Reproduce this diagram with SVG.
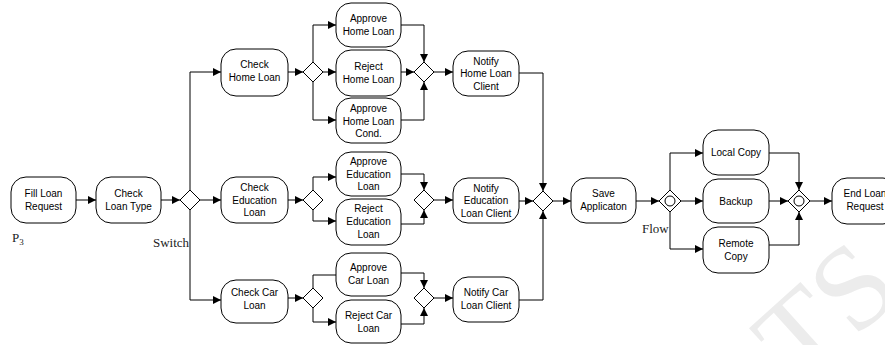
<svg xmlns="http://www.w3.org/2000/svg" width="885" height="345" viewBox="0 0 885 345">
<defs>
<marker id="ah" viewBox="0 0 10 10" refX="10" refY="5" markerWidth="8" markerHeight="8" markerUnits="userSpaceOnUse" orient="auto">
<path d="M0,0 L10,5 L0,10 z" fill="#000"/>
</marker>
</defs>
<style>
.n rect{fill:#fff;stroke:#000;stroke-width:1}
.n text,.t{font-family:"Liberation Sans",Arial,sans-serif;font-size:10px;fill:#000;text-anchor:middle}
.d{fill:#fff;stroke:#000;stroke-width:1}
.c{fill:none;stroke:#000;stroke-width:1}
.c path.a{marker-end:url(#ah)}
.s{font-family:"Liberation Serif","Times New Roman",serif;font-size:13px;fill:#222}
</style>
<rect width="885" height="345" fill="#fff"/>
<text x="800" y="388" transform="rotate(-42 800 388)" style="font-family:'Liberation Serif',serif;font-size:120px;fill:#ececec">TS</text>

<g class="c">
<path class="a" d="M76,200 H96"/>
<path class="a" d="M161,200 H180"/>
<path class="a" d="M200,200 H221"/>
<path class="a" d="M190,190 V72 H221"/>
<path class="a" d="M190,210 V300 H221"/>
<path class="a" d="M288,72 H303"/>
<path class="a" d="M313,62 V25 H336"/>
<path class="a" d="M323,72 H336"/>
<path class="a" d="M313,82 V120 H336"/>
<path class="a" d="M401,25 H424 V62"/>
<path class="a" d="M401,72 H414"/>
<path class="a" d="M401,120 H424 V82"/>
<path class="a" d="M434,72 H453"/>
<path class="a" d="M519,73 H543 V191"/>
<path class="a" d="M288,200 H303"/>
<path class="a" d="M313,190 V177 H336"/>
<path class="a" d="M313,210 V221 H336"/>
<path class="a" d="M401,174 H424 V190"/>
<path class="a" d="M401,224 H424 V210"/>
<path class="a" d="M434,200 H453"/>
<path class="a" d="M519,201 H533"/>
<path class="a" d="M288,298 H303"/>
<path d="M313,288 V275 H336"/>
<path class="a" d="M313,308 V322 H336"/>
<path class="a" d="M401,273 H424 V288"/>
<path class="a" d="M401,324 H424 V308"/>
<path class="a" d="M434,298 H453"/>
<path class="a" d="M519,300 H543 V211"/>
<path class="a" d="M553,201 H571"/>
<path class="a" d="M636,201 H659"/>
<path class="a" d="M670,190 V153 H703"/>
<path class="a" d="M681,201 H703"/>
<path class="a" d="M670,212 V249 H703"/>
<path class="a" d="M769,153 H799 V190"/>
<path class="a" d="M769,201 H788"/>
<path class="a" d="M769,245 H799 V212"/>
<path class="a" d="M810,201 H832"/>
</g>

<g id="fill" class="n"><rect x="11" y="177" width="65" height="46" rx="15"/><text x="43.5" y="197">Fill Loan</text><text x="43.5" y="210">Request</text></g>
<g id="checkType" class="n"><rect x="96" y="177" width="65" height="46" rx="15"/><text x="128.5" y="197">Check</text><text x="128.5" y="210">Loan Type</text></g>
<g id="switch"><path class="d" d="M190,190 L200,200 L190,210 L180,200 z"/></g>

<g id="checkHome" class="n"><rect x="221" y="49" width="67" height="47" rx="15"/><text x="254.5" y="68">Check</text><text x="254.5" y="81">Home Loan</text></g>
<g id="dHome"><path class="d" d="M313,62 L323,72 L313,82 L303,72 z"/></g>
<g id="approveHome" class="n"><rect x="336" y="3" width="65" height="44" rx="15"/><text x="368.5" y="22">Approve</text><text x="368.5" y="35">Home Loan</text></g>
<g id="rejectHome" class="n"><rect x="336" y="50" width="65" height="46" rx="15"/><text x="368.5" y="70">Reject</text><text x="368.5" y="83">Home Loan</text></g>
<g id="condHome" class="n"><rect x="336" y="98" width="65" height="45" rx="15"/><text x="368.5" y="112">Approve</text><text x="368.5" y="124.5">Home Loan</text><text x="368.5" y="137">Cond.</text></g>
<g id="jHome"><path class="d" d="M424,62 L434,72 L424,82 L414,72 z"/></g>
<g id="notifyHome" class="n"><rect x="453" y="51" width="66" height="45" rx="15"/><text x="486" y="64.5">Notify</text><text x="486" y="77">Home Loan</text><text x="486" y="89.5">Client</text></g>

<g id="checkEdu" class="n"><rect x="221" y="177" width="67" height="46" rx="15"/><text x="254.5" y="191">Check</text><text x="254.5" y="203.5">Education</text><text x="254.5" y="216">Loan</text></g>
<g id="dEdu"><path class="d" d="M313,190 L323,200 L313,210 L303,200 z"/></g>
<g id="approveEdu" class="n"><rect x="336" y="152" width="65" height="44" rx="15"/><text x="368.5" y="165">Approve</text><text x="368.5" y="177.5">Education</text><text x="368.5" y="190">Loan</text></g>
<g id="rejectEdu" class="n"><rect x="336" y="199" width="65" height="46" rx="15"/><text x="368.5" y="212">Reject</text><text x="368.5" y="225">Education</text><text x="368.5" y="237.5">Loan</text></g>
<g id="jEdu"><path class="d" d="M424,190 L434,200 L424,210 L414,200 z"/></g>
<g id="notifyEdu" class="n"><rect x="453" y="178" width="66" height="45" rx="15"/><text x="486" y="191.5">Notify</text><text x="486" y="204">Education</text><text x="486" y="216.5">Loan Client</text></g>

<g id="checkCar" class="n"><rect x="221" y="280" width="67" height="43" rx="15"/><text x="254.5" y="296">Check Car</text><text x="254.5" y="309">Loan</text></g>
<g id="dCar"><path class="d" d="M313,288 L323,298 L313,308 L303,298 z"/></g>
<g id="approveCar" class="n"><rect x="336" y="253" width="65" height="43" rx="15"/><text x="368.5" y="271">Approve</text><text x="368.5" y="284">Car Loan</text></g>
<g id="rejectCar" class="n"><rect x="336" y="300" width="65" height="43" rx="15"/><text x="368.5" y="319">Reject Car</text><text x="368.5" y="332">Loan</text></g>
<g id="jCar"><path class="d" d="M424,288 L434,298 L424,308 L414,298 z"/></g>
<g id="notifyCar" class="n"><rect x="453" y="277" width="66" height="45" rx="15"/><text x="486" y="296">Notify Car</text><text x="486" y="309">Loan Client</text></g>

<g id="jAll"><path class="d" d="M543,191 L553,201 L543,211 L533,201 z"/></g>
<g id="save" class="n"><rect x="571" y="178" width="65" height="45" rx="15"/><text x="603.5" y="197">Save</text><text x="603.5" y="210">Applicaton</text></g>

<g id="fork"><path class="d" d="M670,190 L681,201 L670,212 L659,201 z"/><circle class="d" cx="670" cy="201" r="5"/></g>
<g id="localCopy" class="n"><rect x="703" y="130" width="66" height="45" rx="15"/><text x="736" y="156">Local Copy</text></g>
<g id="backup" class="n"><rect x="703" y="179" width="66" height="44" rx="15"/><text x="736" y="204.5">Backup</text></g>
<g id="remoteCopy" class="n"><rect x="703" y="227" width="66" height="46" rx="15"/><text x="736" y="247">Remote</text><text x="736" y="260">Copy</text></g>
<g id="join2"><path class="d" d="M799,190 L810,201 L799,212 L788,201 z"/><circle class="d" cx="799" cy="201" r="5"/></g>
<g id="endReq" class="n"><rect x="832" y="178" width="66" height="46" rx="15"/><text x="865" y="197">End Loan</text><text x="865" y="210">Request</text></g>

<text class="s" x="12" y="242">P<tspan font-size="9" dy="3">3</tspan></text>
<text class="s" x="153" y="247">Switch</text>
<text class="s" x="642" y="233">Flow</text>
</svg>
